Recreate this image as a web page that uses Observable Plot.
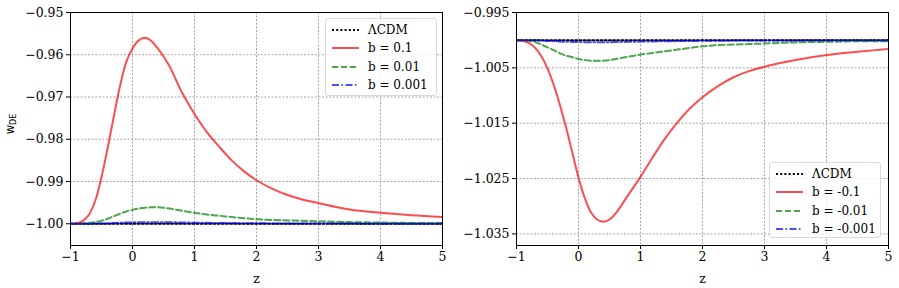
<!DOCTYPE html>
<html>
<head>
<meta charset="utf-8">
<script src="https://cdn.jsdelivr.net/npm/d3@7"></script>
<script src="https://cdn.jsdelivr.net/npm/@observablehq/plot@0.6"></script>
<style>
  html, body { margin: 0; padding: 0; background: white; }
  #wrap { position: relative; width: 899px; height: 288px; display: flex; }
  .legend { position: absolute; box-sizing: border-box; border: 1px solid #d9d9d9; border-radius: 3px;
            background: rgba(255,255,255,0.8); font-family: "DejaVu Serif", serif; font-size: 12px; padding: 2px 0 0 6px; }
  .legend .row { height: 18.3px; display: flex; align-items: center; }
  .legend svg { width: 27px; height: 10px; margin-right: 9px; flex: none; }
</style>
</head>
<body>
<div id="wrap"></div>
<script>
// ---- data ----
const zGrid = [-1,-0.9,-0.8,-0.7,-0.6,-0.5,-0.4,-0.3,-0.2,-0.1,0,0.1,0.2,0.3,0.4,0.5,0.6,0.8,1.0,1.2,1.4,1.6,1.8,2.0,2.25,2.5,2.75,3.0,3.5,4.0,4.5,5.0];

const lcdm = [-1,-1,-1,-1,-1,-1,-1,-1,-1,-1,-1,-1,-1,-1,-1,-1,-1,-1,-1,-1,-1,-1,-1,-1,-1,-1,-1,-1,-1,-1,-1,-1];

// left panel: b > 0
const wPos01 = [-1.0000,-0.99985,-0.9993,-0.9978,-0.9945,-0.9890,-0.9820,-0.9745,-0.9673,-0.9617,-0.9585,-0.9566,-0.9560,-0.9567,-0.9584,-0.9604,-0.9628,-0.9690,-0.9740,-0.9783,-0.9818,-0.9850,-0.9876,-0.9897,-0.9917,-0.9932,-0.9943,-0.9951,-0.9966,-0.9974,-0.9980,-0.9984];
const wPos001 = [-1.0000,-1.0000,-0.99995,-0.9998,-0.9996,-0.9993,-0.9988,-0.9982,-0.9976,-0.9971,-0.9967,-0.9964,-0.9962,-0.9961,-0.9961,-0.9962,-0.9964,-0.9969,-0.9974,-0.9978,-0.9981,-0.9984,-0.9987,-0.9989,-0.9991,-0.9992,-0.9993,-0.9994,-0.9996,-0.9997,-0.9998,-0.9998];
const wPos0001 = [-1.0000,-1.0000,-1.0000,-1.0000,-0.99996,-0.99993,-0.99988,-0.99982,-0.99976,-0.99971,-0.99967,-0.99964,-0.99962,-0.99961,-0.99961,-0.99962,-0.99964,-0.99969,-0.99974,-0.99978,-0.99981,-0.99984,-0.99987,-0.99989,-0.99991,-0.99992,-0.99993,-0.99994,-0.99996,-0.99997,-0.99998,-0.99998];

// right panel: b < 0
const wNeg01 = [-1.0000,-1.0001,-1.0005,-1.0014,-1.0029,-1.0051,-1.0081,-1.0117,-1.0158,-1.0203,-1.0248,-1.0285,-1.0311,-1.0324,-1.0328,-1.0324,-1.0313,-1.0280,-1.0247,-1.0211,-1.0177,-1.0148,-1.0123,-1.0103,-1.0083,-1.0067,-1.0056,-1.0048,-1.0036,-1.0027,-1.0021,-1.0016];
const wNeg001 = [-1.0000,-1.0000,-1.0001,-1.0003,-1.0008,-1.0013,-1.0018,-1.0024,-1.0028,-1.0031,-1.0034,-1.0036,-1.0037,-1.0037,-1.0037,-1.0036,-1.0034,-1.0030,-1.0026,-1.0023,-1.0020,-1.0017,-1.0014,-1.0011,-1.0009,-1.0008,-1.0007,-1.0006,-1.0004,-1.0003,-1.0002,-1.0002];
const wNeg0001 = [-1.0000,-1.0000,-1.0000,-1.0000,-1.00008,-1.00013,-1.00018,-1.00024,-1.00028,-1.00031,-1.00034,-1.00036,-1.00037,-1.00037,-1.00037,-1.00036,-1.00034,-1.00030,-1.00026,-1.00023,-1.00020,-1.00017,-1.00014,-1.00011,-1.00009,-1.00008,-1.00007,-1.00006,-1.00004,-1.00003,-1.00002,-1.00002];

const xTicks = [-1, 0, 1, 2, 3, 4, 5];
const yTicksLeft = [-1.00, -0.99, -0.98, -0.97, -0.96, -0.95];
const yTicksRight = [-1.035, -1.025, -1.015, -1.005, -0.995];

const labelsLeft = ["ΛCDM", "b = 0.1", "b = 0.01", "b = 0.001"];
const labelsRight = ["ΛCDM", "b = -0.1", "b = -0.01", "b = -0.001"];

// ---- styles ----
const styles = [
  {color: "black", opacity: 1,   dash: "2,2.2"},
  {color: "red",   opacity: 0.7, dash: null},
  {color: "green", opacity: 0.7, dash: "6,3"},
  {color: "blue",  opacity: 0.7, dash: "7,2.5,1.5,2.5"}
];

function panel({width, marginLeft, marginRight, yDomain, yTicks, fmt, series, labels, yLabel}) {
  const marks = [
    Plot.gridX({ticks: xTicks, stroke: "#808080", strokeOpacity: 1, strokeWidth: 0.7, strokeDasharray: "2,1.6"}),
    Plot.gridY({ticks: yTicks, stroke: "#808080", strokeOpacity: 1, strokeWidth: 0.7, strokeDasharray: "2,1.6"})
  ];
  series.forEach((vals, k) => {
    const rows = vals.map((w, i) => ({z: zGrid[i], w, name: labels[k]}));
    const s = styles[k];
    marks.push(Plot.line(rows, {x: "z", y: "w", stroke: s.color, strokeOpacity: s.opacity,
      strokeWidth: 2, strokeDasharray: s.dash, curve: "catmull-rom", clip: true}));
  });
  marks.push(
    Plot.frame({stroke: "black", strokeWidth: 1}),
    Plot.axisX({ticks: xTicks, tickSize: 4, tickPadding: 3, tickFormat: d3.format("d"),
      label: "z", labelAnchor: "center", labelArrow: "none", labelOffset: 37, fontSize: 12.5}),
    Plot.axisY({ticks: yTicks, tickSize: 4, tickPadding: 3, tickFormat: fmt, label: null, fontSize: 12.5})
  );
  const chart = Plot.plot({
    width, height: 288, marginLeft, marginRight, marginTop: 12, marginBottom: 43,
    style: {fontFamily: "DejaVu Serif", fontSize: "12px", color: "black", background: "white", overflow: "visible"},
    x: {domain: [-1, 5]},
    y: {domain: yDomain},
    marks
  });
  if (yLabel) {
    const t = d3.select(chart).append("text")
      .attr("transform", "translate(13.5,124) rotate(-90)")
      .attr("text-anchor", "middle")
      .attr("font-family", "DejaVu Sans")
      .attr("fill", "black");
    t.append("tspan").attr("font-size", 11.5).text("w");
    t.append("tspan").attr("font-size", 8).attr("dy", 2).text("DE");
  }
  return chart;
}

const wrap = document.getElementById("wrap");
wrap.appendChild(panel({
  width: 450, marginLeft: 70, marginRight: 8,
  yDomain: [-1.00514, -0.95], yTicks: yTicksLeft, fmt: d3.format(".2f"),
  series: [lcdm, wPos01, wPos001, wPos0001], labels: labelsLeft, yLabel: true
}));
wrap.appendChild(panel({
  width: 449, marginLeft: 66, marginRight: 11,
  yDomain: [-1.0371, -0.995], yTicks: yTicksRight, fmt: d3.format(".3f"),
  series: [lcdm, wNeg01, wNeg001, wNeg0001], labels: labelsRight, yLabel: false
}));

function legend(labels, left, top, width, height) {
  const div = document.createElement("div");
  div.className = "legend";
  Object.assign(div.style, {left: left + "px", top: top + "px", width: width + "px", height: height + "px"});
  labels.forEach((lab, k) => {
    const s = styles[k];
    const row = document.createElement("div");
    row.className = "row";
    row.innerHTML = `<svg viewBox="0 0 27 10"><line x1="0" x2="27" y1="5" y2="5" stroke="${s.color}" stroke-opacity="${s.opacity}" stroke-width="2" ${s.dash ? `stroke-dasharray="${s.dash}"` : ""}/></svg><span>${lab}</span>`;
    div.appendChild(row);
  });
  wrap.appendChild(div);
}
legend(labelsLeft, 325, 18, 112, 78);
legend(labelsRight, 769, 162, 112, 76);
</script>
</body>
</html>
